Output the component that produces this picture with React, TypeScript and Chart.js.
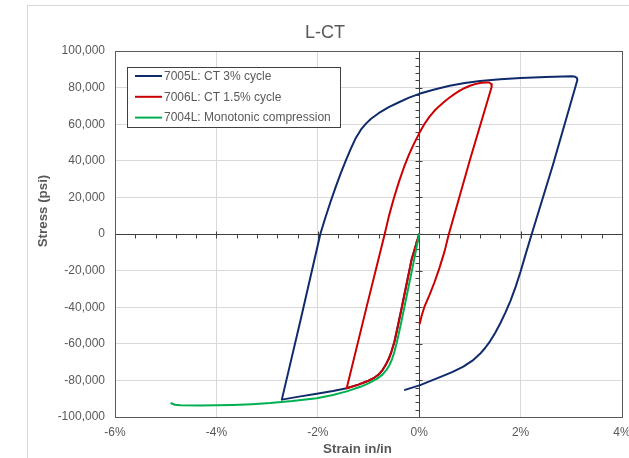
import React, { useEffect, useRef } from "react";
import { Chart, registerables } from "chart.js";

Chart.register(...registerables);

// ---------- text ----------
const TITLE = "L-CT";
const X_TITLE = "Strain in/in";
const Y_TITLE = "Stress (psi)";
const SERIES_LABELS = [
  "7005L: CT 3% cycle",
  "7006L: CT 1.5% cycle",
  "7004L: Monotonic compression",
];
const SERIES_COLORS = ["#0F2B6B", "#CC0000", "#00B050"];

// ---------- axes ----------
const X_MIN = -6;
const X_MAX = 4;
const X_STEP = 2;
const Y_MIN = -100000;
const Y_MAX = 100000;
const Y_STEP = 20000;

// ---------- data (strain in %, stress in psi) ----------
const cycle3Strain = [0, -0.15, -0.25, -0.35, -0.43, -0.49, -0.55, -0.6, -0.66, -0.72, -0.8, -0.9, -1.0, -1.2, -1.43, -1.7, -2.02, -2.4, -2.71, -2.35, -1.95, -1.85, -1.75, -1.65, -1.55, -1.45, -1.35, -1.25, -1.15, -1.05, -0.95, -0.8, -0.6, -0.4, -0.2, 0, 0.3, 0.6, 0.9, 1.2, 1.6, 2.0, 2.5, 3.0, 3.06, 3.11, 3.12, 2.64, 2.22, 2.1, 2.0, 1.9, 1.8, 1.7, 1.6, 1.5, 1.4, 1.3, 1.2, 1.05, 0.87, 0.65, 0.41, 0.2, 0.02, -0.28];
const cycle3Stress = [0, -14000, -27500, -41000, -51500, -59000, -64500, -68200, -71500, -74200, -76800, -78800, -80200, -82300, -84300, -85800, -87300, -89000, -90500, -48200, 0, 9000, 17500, 25500, 33000, 40000, 46500, 52500, 57000, 60300, 63000, 66000, 69300, 72000, 74500, 76600, 79000, 81000, 82500, 83600, 84500, 85200, 85800, 86200, 86100, 85300, 84200, 38000, 0, -11000, -20500, -29000, -36500, -43000, -48800, -54000, -58500, -62300, -65500, -69200, -72500, -75500, -78200, -80500, -82600, -85200];

const cycle15Strain = [0, -0.15, -0.25, -0.35, -0.43, -0.49, -0.55, -0.6, -0.66, -0.72, -0.8, -0.9, -1.0, -1.2, -1.43, -1.03, -0.68, -0.6, -0.5, -0.4, -0.3, -0.2, -0.1, 0, 0.1, 0.2, 0.3, 0.4, 0.5, 0.6, 0.7, 0.8, 0.9, 1.0, 1.1, 1.2, 1.3, 1.38, 1.42, 1.43, 1.0, 0.58, 0.5, 0.4, 0.3, 0.2, 0.1, 0.05, 0.01];
const cycle15Stress = [0, -14000, -27500, -41000, -51500, -59000, -64500, -68200, -71500, -74200, -76800, -78800, -80200, -82300, -84300, -39000, 0, 9500, 19500, 28500, 36500, 43500, 49500, 55000, 60000, 64000, 67300, 70000, 72400, 74600, 76600, 78300, 79800, 81000, 81900, 82500, 82800, 82800, 82000, 80500, 40400, -500, -9500, -18500, -26500, -33500, -40000, -44500, -49000];

const monoStrain = [0, -0.1, -0.2, -0.3, -0.38, -0.44, -0.49, -0.54, -0.59, -0.64, -0.73, -0.83, -1.0, -1.16, -1.43, -1.7, -2.02, -2.5, -2.94, -3.3, -3.67, -4.0, -4.32, -4.71, -4.82, -4.89];
const monoStress = [0, -14000, -27500, -41000, -51500, -59000, -64500, -68700, -71800, -74100, -77000, -79000, -81600, -83500, -86000, -88000, -89700, -91300, -92400, -93000, -93400, -93600, -93700, -93600, -93300, -92500];

const FONT = "'Liberation Sans', Arial, sans-serif";
const TEXT_COLOR = "#595959";

function pts(xs: number[], ys: number[]) {
  return xs.map((x, i) => ({ x, y: ys[i] }));
}

function fmtThousands(v: number) {
  const s = Math.abs(Math.round(v)).toString().replace(/\B(?=(\d{3})+(?!\d))/g, ",");
  return (v < 0 ? "-" : "") + s;
}

const decorPlugin = {
  id: "decor",
  beforeDatasetsDraw(chart: any) {
    const { ctx, chartArea: a, scales } = chart;
    const x = scales.x;
    const y = scales.y;
    const x0 = Math.round(x.getPixelForValue(0)) + 0.5;
    const y0 = Math.round(y.getPixelForValue(0)) + 0.5;
    ctx.save();
    ctx.strokeStyle = "#404040";
    ctx.lineWidth = 1;
    ctx.beginPath();
    ctx.moveTo(a.left, y0);
    ctx.lineTo(a.right, y0);
    ctx.moveTo(x0, a.top);
    ctx.lineTo(x0, a.bottom);
    const xMinor = X_STEP / 5;
    const nx = Math.round((X_MAX - X_MIN) / xMinor);
    for (let i = 0; i <= nx; i++) {
      const v = X_MIN + i * xMinor;
      const px = Math.round(x.getPixelForValue(v)) + 0.5;
      const major = i % 5 === 0;
      ctx.moveTo(px, major ? y0 - 3 : y0);
      ctx.lineTo(px, y0 + 4);
    }
    const yMinor = Y_STEP / 5;
    const ny = Math.round((Y_MAX - Y_MIN) / yMinor);
    for (let i = 0; i <= ny; i++) {
      const v = Y_MIN + i * yMinor;
      const py = Math.round(y.getPixelForValue(v)) + 0.5;
      const major = i % 5 === 0;
      ctx.moveTo(x0 - 4, py);
      ctx.lineTo(major ? x0 + 3 : x0, py);
    }
    ctx.stroke();
    ctx.strokeStyle = "#595959";
    ctx.strokeRect(
      Math.round(a.left) + 0.5,
      Math.round(a.top) + 0.5,
      Math.round(a.right - a.left),
      Math.round(a.bottom - a.top)
    );
    ctx.restore();
  },
  afterDraw(chart: any) {
    const { ctx, chartArea: a } = chart;
    ctx.save();
    // legend box
    const lx = Math.round(a.left) + 12;
    const ly = Math.round(a.top) + 16;
    const lw = 213;
    const lh = 60;
    ctx.fillStyle = "#ffffff";
    ctx.fillRect(lx, ly, lw, lh);
    ctx.strokeStyle = "#404040";
    ctx.lineWidth = 1;
    ctx.strokeRect(lx + 0.5, ly + 0.5, lw, lh);
    ctx.font = `12px ${FONT}`;
    ctx.textBaseline = "middle";
    ctx.textAlign = "left";
    chart.data.datasets.forEach((ds: any, i: number) => {
      const ry = ly + 9 + i * 20.8;
      ctx.strokeStyle = ds.borderColor;
      ctx.lineWidth = 2;
      ctx.beginPath();
      ctx.moveTo(lx + 8, ry);
      ctx.lineTo(lx + 35, ry);
      ctx.stroke();
      ctx.fillStyle = TEXT_COLOR;
      ctx.fillText(ds.label, lx + 37, ry + 0.5);
    });
    // axis titles
    ctx.fillStyle = TEXT_COLOR;
    ctx.font = `bold 13.33px ${FONT}`;
    ctx.textAlign = "center";
    ctx.textBaseline = "middle";
    ctx.fillText(X_TITLE, (a.left + a.right) / 2 - 11, a.bottom + 32);
    ctx.translate(a.left - 72, (a.top + a.bottom) / 2 - 23);
    ctx.rotate(-Math.PI / 2);
    ctx.fillText(Y_TITLE, 0, 0);
    ctx.restore();
  },
};

export default function App() {
  const ref = useRef<HTMLCanvasElement>(null);
  useEffect(() => {
    const datasets = [
      { label: SERIES_LABELS[0], data: pts(cycle3Strain, cycle3Stress), order: 2 },
      { label: SERIES_LABELS[1], data: pts(cycle15Strain, cycle15Stress), order: 1 },
      { label: SERIES_LABELS[2], data: pts(monoStrain, monoStress), order: 0 },
    ].map((d, i) => ({
      ...d,
      borderColor: SERIES_COLORS[i],
      backgroundColor: SERIES_COLORS[i],
      borderWidth: 2,
      showLine: true,
      pointRadius: 0,
      tension: 0,
      borderJoinStyle: "round" as const,
      borderCapStyle: "round" as const,
    }));
    const chart = new Chart(ref.current!, {
      type: "scatter",
      data: { datasets },
      options: {
        responsive: false,
        maintainAspectRatio: false,
        animation: false,
        layout: { padding: { left: 0, right: 42, top: 0, bottom: 0 } },
        plugins: {
          legend: { display: false },
          tooltip: { enabled: false },
          title: {
            display: true,
            text: TITLE,
            color: TEXT_COLOR,
            font: { family: FONT, size: 18, weight: "normal" },
            padding: { top: 16.2, bottom: 7.2 },
          },
        },
        scales: {
          x: {
            type: "linear",
            min: X_MIN,
            max: X_MAX,
            grid: { color: "#d9d9d9", drawTicks: false },
            border: { display: false },
            ticks: {
              stepSize: X_STEP,
              padding: 8,
              color: TEXT_COLOR,
              font: { family: FONT, size: 12 },
              callback: (v: any) => `${v}%`,
            },
            afterFit: (s: any) => {
              s.height = 41;
            },
          },
          y: {
            type: "linear",
            min: Y_MIN,
            max: Y_MAX,
            grid: { color: "#d9d9d9", drawTicks: false },
            border: { display: false },
            ticks: {
              stepSize: Y_STEP,
              padding: 10,
              color: TEXT_COLOR,
              font: { family: FONT, size: 12 },
              callback: (v: any) => fmtThousands(Number(v)),
            },
            afterFit: (s: any) => {
              s.width = 87;
            },
          },
        },
      },
      plugins: [decorPlugin],
    } as any);
    return () => chart.destroy();
  }, []);

  return (
    <div
      style={{
        position: "absolute",
        left: 0,
        top: 0,
        width: 629,
        height: 458,
        overflow: "hidden",
        background: "#ffffff",
      }}
    >
      <div
        style={{
          position: "absolute",
          left: 27,
          top: 5,
          width: 700,
          height: 520,
          border: "1px solid #d9d9d9",
        }}
      />
      <canvas
        ref={ref}
        width={636}
        height={452}
        style={{ position: "absolute", left: 28, top: 6, width: 636, height: 452 }}
      />
    </div>
  );
}
